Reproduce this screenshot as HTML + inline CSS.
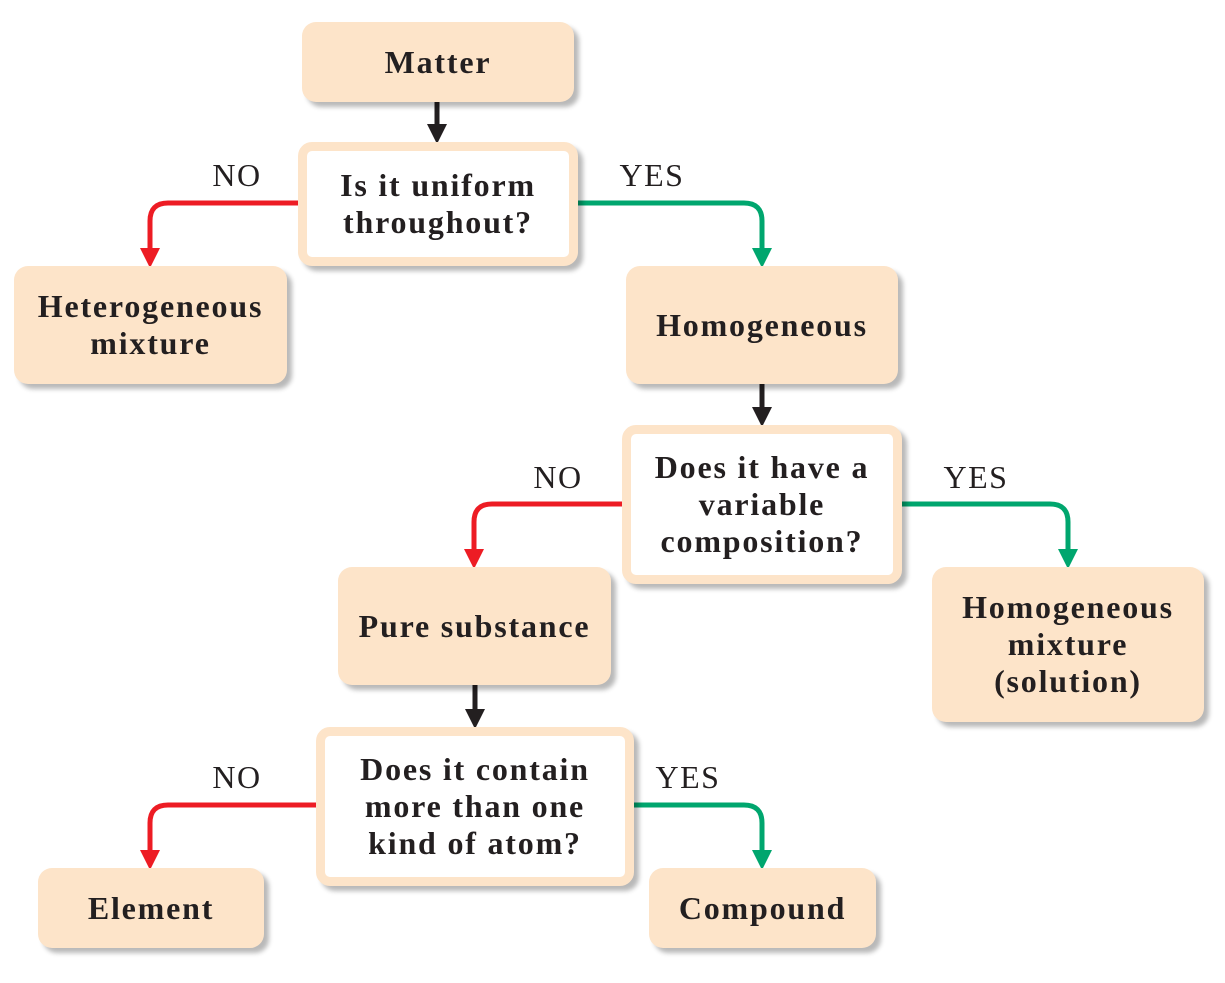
<!DOCTYPE html>
<html><head><meta charset="utf-8"><style>
html,body{margin:0;padding:0;background:#fff;}
#c{position:relative;width:1225px;height:983px;overflow:hidden;font-family:"Liberation Serif",serif;color:#231f20;}
.b{position:absolute;box-sizing:border-box;background:#fde4c9;border-radius:14px;box-shadow:5px 5px 5px rgba(0,0,0,0.28);display:flex;align-items:center;justify-content:center;text-align:center;font-weight:bold;font-size:32px;letter-spacing:1.8px;line-height:37px;}
.q{background:#fff;border:9px solid #fde4c9;}
.l{position:absolute;font-size:32px;letter-spacing:1.5px;line-height:30px;transform:translateX(-50%);}
svg{position:absolute;left:0;top:0;}
</style></head><body>
<div id="c">
<svg width="1225" height="983">
<defs>
<marker id="ak" markerWidth="5" markerHeight="4" refX="0" refY="2" orient="auto" markerUnits="strokeWidth"><path d="M0,0 L4,2 L0,4Z" fill="#231f20"/></marker>
<marker id="ar" markerWidth="5" markerHeight="4" refX="0" refY="2" orient="auto" markerUnits="strokeWidth"><path d="M0,0 L4,2 L0,4Z" fill="#ed1c24"/></marker>
<marker id="ag" markerWidth="5" markerHeight="4" refX="0" refY="2" orient="auto" markerUnits="strokeWidth"><path d="M0,0 L4,2 L0,4Z" fill="#00a66e"/></marker>
</defs>
<g fill="none" stroke-width="5">
<path d="M437,102 V124" stroke="#231f20" marker-end="url(#ak)"/>
<path d="M762,384 V407" stroke="#231f20" marker-end="url(#ak)"/>
<path d="M475,685 V709" stroke="#231f20" marker-end="url(#ak)"/>
<path d="M298,203 H168 Q150,203 150,221 V248" stroke="#ed1c24" marker-end="url(#ar)"/>
<path d="M578,203 H744 Q762,203 762,221 V248" stroke="#00a66e" marker-end="url(#ag)"/>
<path d="M622,504 H492 Q474,504 474,522 V549" stroke="#ed1c24" marker-end="url(#ar)"/>
<path d="M902,504 H1050 Q1068,504 1068,522 V549" stroke="#00a66e" marker-end="url(#ag)"/>
<path d="M316,805 H168 Q150,805 150,823 V850" stroke="#ed1c24" marker-end="url(#ar)"/>
<path d="M634,805 H744 Q762,805 762,823 V850" stroke="#00a66e" marker-end="url(#ag)"/>
</g>
</svg>
<div class="b" style="left:302px;top:22px;width:272px;height:80px;">Matter</div>
<div class="b q" style="left:298px;top:142px;width:280px;height:124px;">Is it uniform<br>throughout?</div>
<div class="b" style="left:14px;top:266px;width:273px;height:118px;">Heterogeneous<br>mixture</div>
<div class="b" style="left:626px;top:266px;width:272px;height:118px;">Homogeneous</div>
<div class="b q" style="left:622px;top:425px;width:280px;height:159px;">Does it have a<br>variable<br>composition?</div>
<div class="b" style="left:338px;top:567px;width:273px;height:118px;">Pure substance</div>
<div class="b" style="left:932px;top:567px;width:272px;height:155px;">Homogeneous<br>mixture<br>(solution)</div>
<div class="b q" style="left:316px;top:727px;width:318px;height:159px;">Does it contain<br>more than one<br>kind of atom?</div>
<div class="b" style="left:38px;top:868px;width:226px;height:80px;">Element</div>
<div class="b" style="left:649px;top:868px;width:227px;height:80px;">Compound</div>
<div class="l" style="left:237px;top:160px;">NO</div>
<div class="l" style="left:652px;top:160px;">YES</div>
<div class="l" style="left:558px;top:462px;">NO</div>
<div class="l" style="left:976px;top:462px;">YES</div>
<div class="l" style="left:237px;top:762px;">NO</div>
<div class="l" style="left:688px;top:762px;">YES</div>
</div>
</body></html>
